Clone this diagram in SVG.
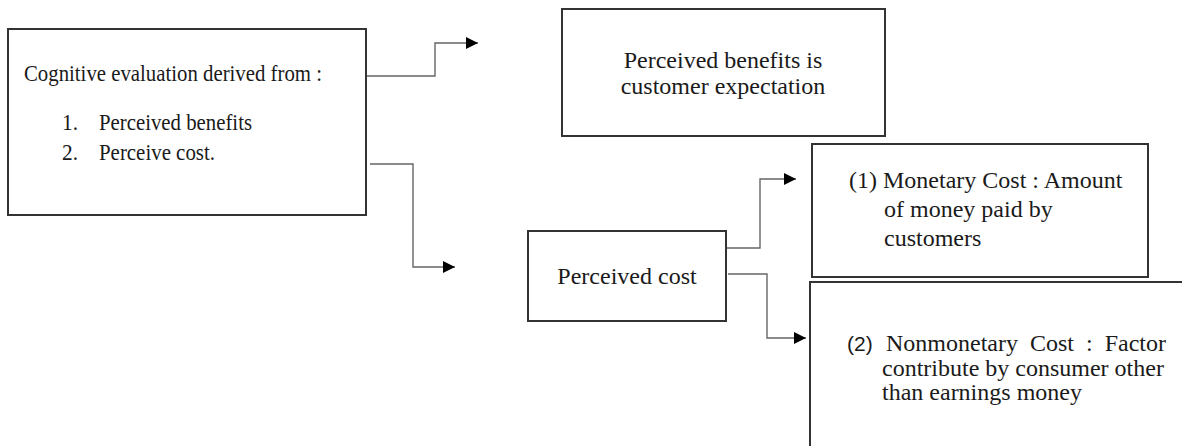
<svg xmlns="http://www.w3.org/2000/svg" width="1182" height="446" viewBox="0 0 1182 446">
<style>
.box{fill:#fff;stroke:#333;stroke-width:2}
.t{font-family:"Liberation Serif","Times New Roman",serif;fill:#1a1a1a}
.s{font-family:"Liberation Sans",Arial,sans-serif;fill:#1a1a1a}
.c{fill:none;stroke:#666;stroke-width:1.4}
</style>
<defs>
<marker id="ah" markerUnits="userSpaceOnUse" markerWidth="13" markerHeight="12" refX="12" refY="6" orient="auto">
<path d="M0,0 L12,6 L0,12 z" fill="#000"/>
</marker>
</defs>
<rect width="1182" height="446" fill="#fff"/>
<g id="connectors">
<path class="c" d="M366,76 H435 V43 H478" marker-end="url(#ah)"/>
<path class="c" d="M370,164 H413 V267 H455" marker-end="url(#ah)"/>
<path class="c" d="M726,248 H760 V179 H796" marker-end="url(#ah)"/>
<path class="c" d="M728,274 H767 V338 H806" marker-end="url(#ah)"/>
</g>
<g id="cognitive">
<rect class="box" x="8" y="29" width="358" height="186"/>
<text class="t" x="24" y="81" font-size="23" textLength="298" lengthAdjust="spacingAndGlyphs">Cognitive evaluation derived from :</text>
<text class="t" x="62" y="130" font-size="23" textLength="16" lengthAdjust="spacingAndGlyphs">1.</text>
<text class="t" x="99" y="130" font-size="23" textLength="153" lengthAdjust="spacingAndGlyphs">Perceived benefits</text>
<text class="t" x="62" y="160" font-size="23" textLength="16" lengthAdjust="spacingAndGlyphs">2.</text>
<text class="t" x="99" y="160" font-size="23" textLength="116" lengthAdjust="spacingAndGlyphs">Perceive cost.</text>
</g>
<g id="benefits">
<rect class="box" x="562" y="9" width="323" height="127"/>
<text class="t" x="723" y="68" font-size="24" text-anchor="middle">Perceived benefits is</text>
<text class="t" x="723" y="94" font-size="24" text-anchor="middle">customer expectation</text>
</g>
<g id="perceived-cost">
<rect class="box" x="528" y="231" width="198" height="90"/>
<text class="t" x="627" y="284" font-size="24" text-anchor="middle">Perceived cost</text>
</g>
<g id="monetary">
<rect class="box" x="812" y="144" width="336" height="133"/>
<text class="t" x="849" y="188" font-size="24">(1) Monetary Cost : Amount</text>
<text class="t" x="884" y="217" font-size="24">of money paid by</text>
<text class="t" x="884" y="246" font-size="24">customers</text>
</g>
<g id="nonmonetary">
<rect class="box" x="810" y="282" width="400" height="200"/>
<text class="s" x="847" y="351" font-size="21">(2)</text>
<text class="t" x="886" y="351" font-size="24" word-spacing="6">Nonmonetary Cost : Factor</text>
<text class="t" x="882" y="376" font-size="24">contribute by consumer other</text>
<text class="t" x="882" y="400" font-size="24">than earnings money</text>
</g>
</svg>
